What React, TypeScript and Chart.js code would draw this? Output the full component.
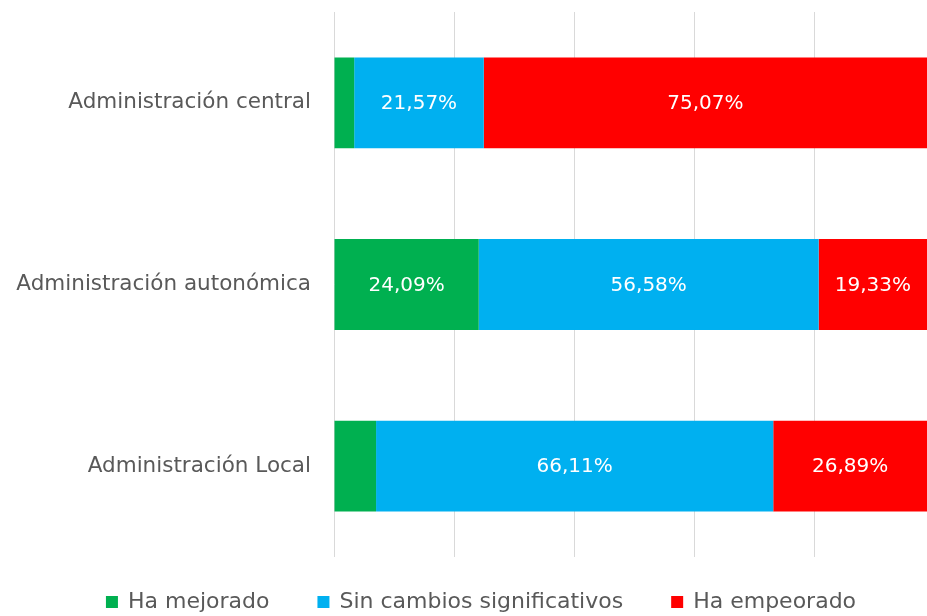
import React, { useEffect, useRef } from "react";
import { Chart, registerables } from "chart.js";

Chart.register(...registerables);

const categories = ["Administración central", "Administración autonómica", "Administración Local"];
const seriesNames = ["Ha mejorado", "Sin cambios significativos", "Ha empeorado"];
const mejorado = [3.36, 24.09, 7.0];
const sinCambios = [21.57, 56.58, 66.11];
const empeorado = [75.07, 19.33, 26.89];
const colors = ["#00B050", "#00B0F0", "#FF0000"];

const FONT = "'DejaVu Sans', 'Liberation Sans', sans-serif";
const GRAY = "#595959";

const labelPlugin = {
  id: "segLabels",
  afterDatasetsDraw(chart: any) {
    const ctx = chart.ctx;
    ctx.save();
    ctx.font = `20px ${FONT}`;
    ctx.fillStyle = "#FFFFFF";
    ctx.textAlign = "center";
    ctx.textBaseline = "middle";
    chart.data.datasets.forEach((ds: any, di: number) => {
      const meta = chart.getDatasetMeta(di);
      meta.data.forEach((bar: any, i: number) => {
        const v = ds.data[i];
        if (v < 10) return;
        const txt = v.toFixed(2).replace(".", ",") + "%";
        const left = Math.max(bar.base, chart.chartArea.left);
        const right = Math.min(bar.x, chart.chartArea.right);
        ctx.fillText(txt, (left + right) / 2, bar.y + 1);
      });
    });
    ctx.restore();
  },
};

// Legend drawn below the plot, centred like the original
const legendPlugin = {
  id: "customLegend",
  afterDraw(chart: any) {
    const ctx = chart.ctx;
    const size = 22;
    const box = 12;
    const gapBox = 10;
    const gapItem = 48;
    ctx.save();
    ctx.font = `${size}px ${FONT}`;
    ctx.textBaseline = "middle";
    ctx.textAlign = "left";
    const items = chart.data.datasets.map((ds: any) => ({
      text: ds.label,
      color: ds.backgroundColor,
      w: box + gapBox + ctx.measureText(ds.label).width,
    }));
    const total = items.reduce((s: number, it: any) => s + it.w, 0) + gapItem * (items.length - 1);
    const cx = 481;
    const cy = 602;
    let x = cx - total / 2;
    items.forEach((it: any) => {
      ctx.fillStyle = it.color;
      ctx.fillRect(x, cy - box / 2, box, box);
      ctx.fillStyle = GRAY;
      ctx.fillText(it.text, x + box + gapBox, cy);
      x += it.w + gapItem;
    });
    ctx.restore();
  },
};

export default function App() {
  const ref = useRef<HTMLCanvasElement>(null);
  useEffect(() => {
    const data = [mejorado, sinCambios, empeorado];
    const chart = new Chart(ref.current!, {
      type: "bar",
      data: {
        labels: categories,
        datasets: seriesNames.map((n, k) => ({
          label: n,
          data: data[k],
          backgroundColor: colors[k],
          borderWidth: 0,
          barPercentage: 0.5,
          categoryPercentage: 1,
        })),
      },
      options: {
        indexAxis: "y",
        animation: false,
        responsive: true,
        maintainAspectRatio: false,
        layout: { padding: { top: 12, left: 0, right: 0, bottom: 59 } },
        scales: {
          x: {
            stacked: true,
            min: 0,
            max: 98.7,
            ticks: { display: false, stepSize: 20 },
            grid: { color: "#D9D9D9", lineWidth: 1, drawTicks: false, tickLength: 0 },
            border: { display: false },
          },
          y: {
            stacked: true,
            grid: { display: false, drawTicks: false, tickLength: 0 },
            border: { display: false },
            ticks: { color: GRAY, font: { family: FONT, size: 21.5 }, padding: 23 },
            afterFit: (s: any) => {
              s.width = 334;
              s.paddingTop = 0;
              s.paddingBottom = 0;
            },
          },
        },
        plugins: {
          legend: { display: false },
          tooltip: { enabled: false },
        },
      },
      plugins: [labelPlugin, legendPlugin],
    });
    return () => chart.destroy();
  }, []);
  return (
    <div style={{ position: "absolute", left: 0, top: 0, width: 927, height: 616 }}>
      <canvas ref={ref} />
    </div>
  );
}
